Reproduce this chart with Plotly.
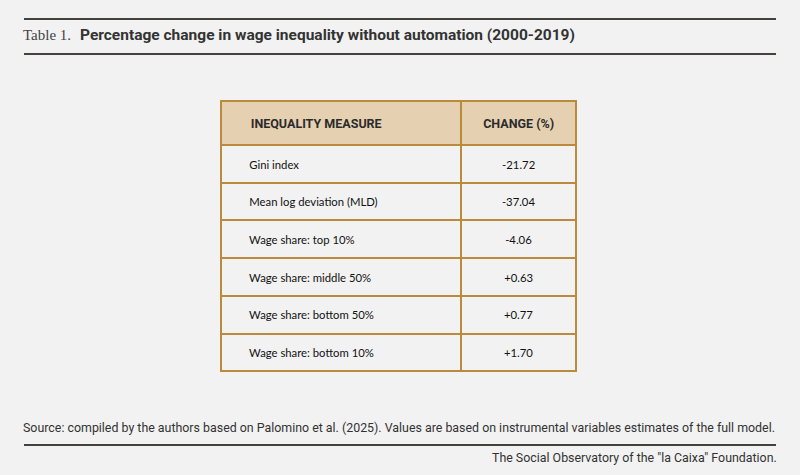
import plotly.graph_objects as go

# table content
header_labels = ["INEQUALITY MEASURE", "CHANGE (%)"]
measures = [
    "Gini index",
    "Mean log deviation (MLD)",
    "Wage share: top 10%",
    "Wage share: middle 50%",
    "Wage share: bottom 50%",
    "Wage share: bottom 10%",
]
changes = ["-21.72", "-37.04", "-4.06", "+0.63", "+0.77", "+1.70"]

table_no = "Table 1."
title = "Percentage change in wage inequality without automation (2000-2019)"
source = ("Source: compiled by the authors based on Palomino et al. (2025). "
          "Values are based on instrumental variables estimates of the full model.")
credit = 'The Social Observatory of the "la Caixa" Foundation.'

BG = "#f2f2f2"
GOLD = "#bb8a3c"
HEAD = "#e5d1b1"
DARK = "#45413d"
W, H = 800, 475

head_pad = "\u00a0" * 7   # left inset of first column
cell_pad = "\u00a0" * 7


def mid(s, strut):
    # plotly tables top-align text; a tiny invisible first line pushes the
    # real text down towards the middle of the cell
    return '<span style="font-size:%dpx">\u00a0</span><br>%s' % (strut, s)


fig = go.Figure(go.Table(
    domain=dict(x=[221 / W, 577 / W], y=[1 - 380 / H, 1 - 101 / H]),
    columnwidth=[241, 115],
    header=dict(
        values=[mid("<b>" + head_pad + header_labels[0] + "</b>", 3),
                mid("<b>" + header_labels[1] + "</b>", 3)],
        fill_color=HEAD,
        line=dict(color=GOLD, width=2),
        align=["left", "center"],
        font=dict(family="Roboto", size=12.5, color="#2b2b2b"),
        height=44,
    ),
    cells=dict(
        values=[[mid(cell_pad + m, 1) for m in measures], [mid(c, 1) for c in changes]],
        fill_color=BG,
        line=dict(color=GOLD, width=2),
        align=["left", "center"],
        font=dict(family="Lato", size=11.3, color="#111111"),
        height=37.7,
    ),
))

# rules above/below the title and above the credit line
for y in (19, 54, 445):
    fig.add_shape(type="line", xref="paper", yref="paper",
                  x0=24 / W, x1=776 / W, y0=1 - y / H, y1=1 - y / H,
                  line=dict(color=DARK, width=2))

fig.add_annotation(text=table_no, xref="paper", yref="paper", x=21 / W, y=1 - 35 / H,
                   xanchor="left", yanchor="middle", showarrow=False,
                   font=dict(family="Liberation Serif", size=15, color="#444"))
fig.add_annotation(text="<b>" + title + "</b>", xref="paper", yref="paper", x=78 / W, y=1 - 35 / H,
                   xanchor="left", yanchor="middle", showarrow=False,
                   font=dict(family="Roboto", size=15.5, color="#333"))
fig.add_annotation(text=source, xref="paper", yref="paper", x=21 / W, y=1 - 427 / H,
                   xanchor="left", yanchor="middle", showarrow=False,
                   font=dict(family="Roboto", size=12.4, color="#333"))
fig.add_annotation(text=credit, xref="paper", yref="paper", x=779 / W, y=1 - 457 / H,
                   xanchor="right", yanchor="middle", showarrow=False,
                   font=dict(family="Roboto", size=12.4, color="#333"))

fig.update_layout(width=W, height=H, margin=dict(l=0, r=0, t=0, b=0),
                  paper_bgcolor=BG, plot_bgcolor=BG)
fig.write_html("out.html", config={"displayModeBar": False},
               post_script="document.body.style.margin='0';")
